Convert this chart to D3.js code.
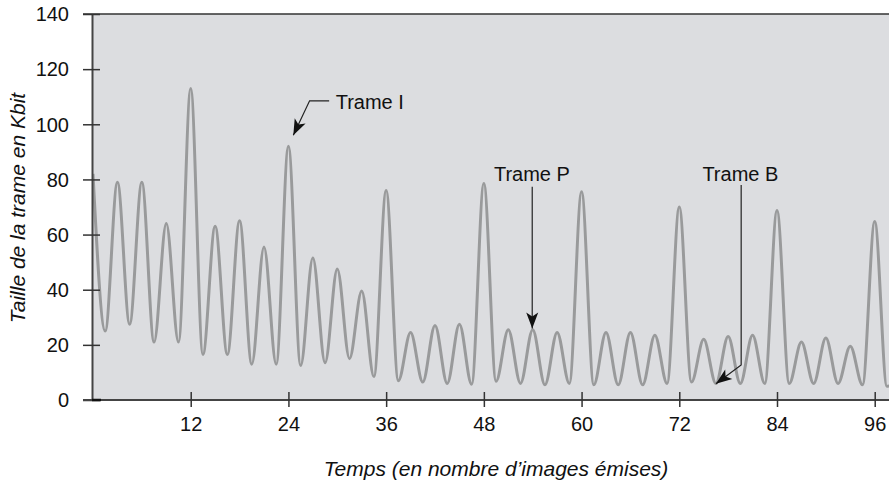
<!DOCTYPE html>
<html>
<head>
<meta charset="utf-8">
<script src="https://cdn.jsdelivr.net/npm/d3@7"></script>
<style>
  html, body { margin: 0; padding: 0; background: #fff; }
  svg { display: block; }
  text { font-family: "Liberation Sans", Arial, Helvetica, sans-serif; fill: #111; }
</style>
</head>
<body>
<script>
// ---- data ----
// frame positions (peaks at I/P frames, troughs at B frames)
const frames = [0, 1.5, 3, 4.5, 6, 7.5, 9, 10.5, 12, 13.5, 15, 16.5, 18, 19.5, 21, 22.5,
  24, 25.5, 27, 28.5, 30, 31.5, 33, 34.5, 36, 37.5, 39, 40.5, 42, 43.5, 45, 46.5,
  48, 49.5, 51, 52.5, 54, 55.5, 57, 58.5, 60, 61.5, 63, 64.5, 66, 67.5, 69, 70.5,
  72, 73.5, 75, 76.5, 78, 79.5, 81, 82.5, 84, 85.5, 87, 88.5, 90, 91.5, 93, 94.5,
  96, 97.5, 98];
// frame size in Kbit
const sizes = [82, 25, 79, 27.5, 79, 21, 64, 21, 113, 16.5, 63, 16.5, 65, 13, 55.5, 13,
  92, 12.5, 51.5, 13.5, 47.5, 15, 39.5, 8.5, 76, 7, 24.5, 6.5, 27, 6, 27.5, 5.7,
  78.5, 6.8, 25.5, 6, 25.5, 5.5, 24.5, 6, 75.5, 5.5, 24.5, 5.5, 24.5, 5.5, 23.5, 6,
  70, 6.5, 22, 6, 23, 6, 23.5, 6, 68.7, 6, 21, 6, 22.5, 6, 19.5, 5.5,
  64.7, 5, 5.3];
const xTicks = [12, 24, 36, 48, 60, 72, 84, 96];
const yTicks = [0, 20, 40, 60, 80, 100, 120, 140];
const xTitle = "Temps (en nombre d\u2019images émises)";
const yTitle = "Taille de la trame en Kbit";
// annotations: label, text anchor (frame, value), path points (frame, value), arrow tip last
const annotations = [
  { label: "Trame I", anchor: "start", tx: 29.8, ty: 105.6,
    path: [[29.0, 108.5], [26.6, 108.5], [24.6, 96.0]] },
  { label: "Trame P", anchor: "middle", tx: 53.9, ty: 79.5,
    path: [[53.94, 77.3], [53.94, 25.9]] },
  { label: "Trame B", anchor: "middle", tx: 79.5, ty: 79.5,
    path: [[79.6, 78.0], [79.6, 12.7], [76.5, 5.9]] }
];

// ---- layout ----
const W = 889, H = 482;
const svg = d3.select("body").append("svg").attr("width", W).attr("height", H);

const x = d3.scaleLinear().domain([0, 98]).range([93, 891]);
const y = d3.scaleLinear().domain([0, 140]).range([400, 14]);

const pLeft = 92, pRight = W, pTop = y(140), pBottom = y(0);

svg.append("rect")
  .attr("x", pLeft).attr("y", pTop)
  .attr("width", pRight - pLeft).attr("height", pBottom - pTop)
  .attr("fill", "#dcdde0");

svg.append("clipPath").attr("id", "clip")
  .append("rect").attr("x", pLeft).attr("y", pTop)
  .attr("width", pRight - pLeft).attr("height", pBottom - pTop);

const pts = frames.map((f, i) => [f, sizes[i]]);
const line = d3.line().x(d => x(d[0])).y(d => y(d[1])).curve(d3.curveMonotoneX);
svg.append("path")
  .attr("clip-path", "url(#clip)")
  .attr("d", line(pts))
  .attr("fill", "none")
  .attr("stroke", "#999a9b")
  .attr("stroke-width", 3);

// top border
svg.append("line")
  .attr("x1", 83).attr("x2", W).attr("y1", pTop).attr("y2", pTop)
  .attr("stroke", "#333").attr("stroke-width", 1.5);

// y axis
const gy = svg.append("g").attr("transform", `translate(${pLeft},0)`)
  .call(d3.axisLeft(y).tickValues(yTicks).tickFormat(d3.format("d")).tickSizeOuter(0));
gy.select(".domain").attr("stroke", "#444").attr("stroke-width", 2);
gy.selectAll(".tick line").attr("x1", 8).attr("x2", -9).attr("stroke", "#333").attr("stroke-width", 1.5);
gy.selectAll(".tick text").attr("x", -23).attr("dy", "0.34em")
  .style("font-size", "20px").style("font-family", "Liberation Sans, Arial, sans-serif").attr("fill", "#111");

// x axis
const gx = svg.append("g").attr("transform", `translate(0,${pBottom})`)
  .call(d3.axisBottom(x).tickValues(xTicks).tickFormat(d3.format("d")).tickSizeOuter(0));
gx.select(".domain").attr("d", `M83,0H${W}`).attr("stroke", "#444").attr("stroke-width", 2);
gx.selectAll(".tick line").attr("y1", -8).attr("y2", 7).attr("stroke", "#333").attr("stroke-width", 1.5);
gx.selectAll(".tick text").attr("y", 17).attr("dy", "0.71em")
  .style("font-size", "20px").style("font-family", "Liberation Sans, Arial, sans-serif").attr("fill", "#111");

// corner mark
svg.append("line").attr("x1", pLeft).attr("x2", pLeft + 9).attr("y1", pBottom).attr("y2", pBottom)
  .attr("stroke", "#111").attr("stroke-width", 2.5);

// axis titles
svg.append("text")
  .attr("transform", `translate(25,${(93 + 323) / 2}) rotate(-90)`)
  .attr("text-anchor", "middle")
  .style("font-size", "21px").style("font-style", "italic")
  .text(yTitle);
svg.append("text")
  .attr("x", 496).attr("y", 476)
  .attr("text-anchor", "middle")
  .style("font-size", "21px").style("font-style", "italic")
  .text(xTitle);

// annotations
function arrowHead(p0, p1) {
  const dx = p1[0] - p0[0], dy = p1[1] - p0[1];
  const len = Math.hypot(dx, dy);
  const ux = dx / len, uy = dy / len, nx = -uy, ny = ux;
  const L = 16, Wd = 6, N = 12;
  const bx = p1[0] - ux * L, by = p1[1] - uy * L;
  const cx = p1[0] - ux * N, cy = p1[1] - uy * N;
  return `M${p1[0]},${p1[1]}L${bx + nx * Wd},${by + ny * Wd}L${cx},${cy}L${bx - nx * Wd},${by - ny * Wd}Z`;
}
annotations.forEach(a => {
  svg.append("text")
    .attr("x", x(a.tx)).attr("y", y(a.ty))
    .attr("text-anchor", a.anchor)
    .style("font-size", "20px")
    .text(a.label);
  const p = a.path.map(d => [x(d[0]), y(d[1])]);
  svg.append("path")
    .attr("d", d3.line()(p))
    .attr("fill", "none")
    .attr("stroke", "#222").attr("stroke-width", 1.2);
  svg.append("path")
    .attr("d", arrowHead(p[p.length - 2], p[p.length - 1]))
    .attr("fill", "#111");
});
</script>
</body>
</html>
